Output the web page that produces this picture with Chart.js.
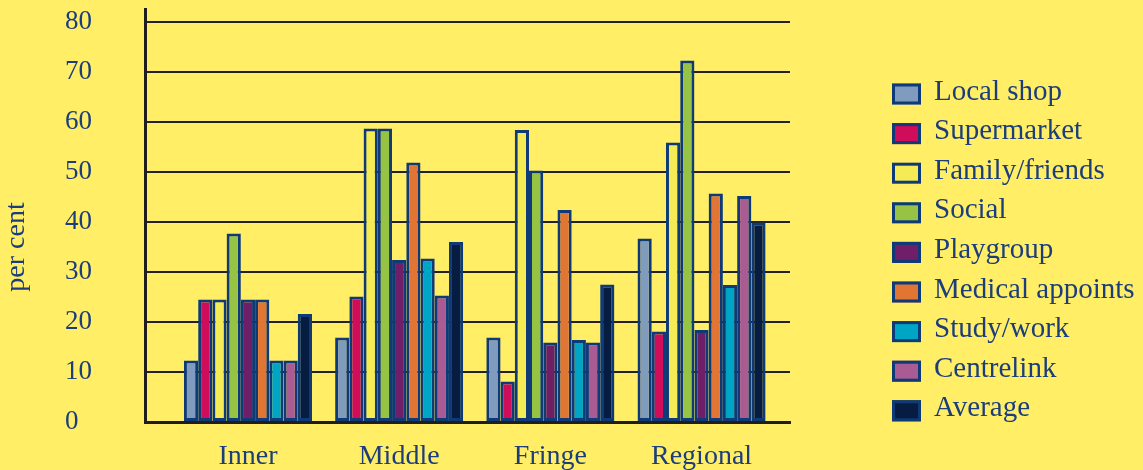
<!DOCTYPE html>
<html>
<head>
<meta charset="utf-8">
<script src="https://cdn.jsdelivr.net/npm/chart.js@4/dist/chart.umd.min.js"></script>
<style>
  html, body { margin: 0; padding: 0; background: #FFEE66; }
  #wrap { width: 1143px; height: 470px; }
</style>
</head>
<body>
<div id="wrap"><canvas id="trips" width="1143" height="470"></canvas></div>
<script>
// Trip purposes by area, per cent
const categories = ['Inner', 'Middle', 'Fringe', 'Regional'];
const seriesNames = ['Local shop', 'Supermarket', 'Family/friends', 'Social', 'Playgroup',
  'Medical appoints', 'Study/work', 'Centrelink', 'Average'];

const localShop     = [12.3, 16.9, 16.9, 36.7];
const supermarket   = [24.5, 25.1,  8.1, 18.1];
const familyFriends = [24.5, 58.7, 58.4, 55.9];
const social        = [37.7, 58.7, 50.3, 72.3];
const playgroup     = [24.5, 32.4, 15.9, 18.4];
const medical       = [24.5, 51.9, 42.4, 45.7];
const studyWork     = [12.3, 32.7, 16.4, 27.4];
const centrelink    = [12.3, 25.3, 15.9, 45.2];
const average       = [21.6, 36.0, 27.5, 39.9];

const yTicks = [0, 10, 20, 30, 40, 50, 60, 70, 80];
const axisTitle = 'per cent';

const seriesValues = [localShop, supermarket, familyFriends, social, playgroup,
  medical, studyWork, centrelink, average];
const fills = ['#7F9BBE', '#CF0D5A', '#F4EB55', '#97C344', '#6F1E68',
  '#E17634', '#00A4C4', '#A95B93', '#061C40'];

const inkBlue = '#1B3D7C';
const edgeBlue = '#0E3B78';
const serif = '"Liberation Serif", "Times New Roman", serif';

const datasets = seriesValues.map((vals, i) => ({
  label: seriesNames[i],
  data: vals,
  backgroundColor: fills[i],
  borderColor: edgeBlue,
  borderWidth: 3,
  borderSkipped: false,
  categoryPercentage: 0.847,
  barPercentage: 1.0
}));

// Side legend and rotated axis caption
const sideLegend = {
  id: 'sideLegend',
  afterDraw(chart) {
    const ctx = chart.ctx;
    ctx.save();
    ctx.font = '29px ' + serif;
    ctx.textAlign = 'left';
    ctx.textBaseline = 'alphabetic';
    chart.data.datasets.forEach((ds, i) => {
      const top = 83.5 + i * 39.6;
      ctx.fillStyle = ds.backgroundColor;
      ctx.fillRect(892, top, 29, 21);
      ctx.strokeStyle = ds.borderColor;
      ctx.lineWidth = 3;
      ctx.strokeRect(893.5, top + 1.5, 26, 18);
      ctx.fillStyle = inkBlue;
      ctx.fillText(ds.label, 934, top + 16);
    });
    ctx.font = '28px ' + serif;
    ctx.translate(23.5, 247);
    ctx.rotate(-Math.PI / 2);
    ctx.textAlign = 'center';
    ctx.fillText(axisTitle, 0, 0);
    ctx.restore();
  }
};

new Chart(document.getElementById('trips'), {
  type: 'bar',
  data: { labels: categories, datasets },
  plugins: [sideLegend],
  options: {
    responsive: false,
    animation: false,
    layout: { padding: { left: 65, top: 9, right: 353, bottom: 0 } },
    plugins: { legend: { display: false }, tooltip: { enabled: false } },
    scales: {
      x: {
        grid: { display: false },
        border: { display: true, color: '#1E1E1E', width: 3 },
        ticks: { color: inkBlue, font: { family: serif, size: 28 }, padding: 10, maxRotation: 0 },
        afterFit(s) { s.height = 48; s.paddingLeft = 0; s.paddingRight = 0; },
        afterBuildTicks(s) {
          // place the four groups inside the plotting band
          s._startValue = -0.681;
          s._valueRange = 4.266;
        }
      },
      y: {
        min: 0,
        max: 82.6,
        grid: { color: '#222', lineWidth: 2, drawTicks: false },
        border: { display: true, color: '#1E1E1E', width: 3 },
        afterBuildTicks(s) { s.ticks = yTicks.map(v => ({ value: v })); },
        afterFit(s) { s.width = 80; s.paddingTop = 0; s.paddingBottom = 0; },
        ticks: {
          color: inkBlue,
          font: { family: serif, size: 27 },
          crossAlign: 'far',
          padding: 0,
          includeBounds: false
        }
      }
    }
  }
});
</script>
</body>
</html>
